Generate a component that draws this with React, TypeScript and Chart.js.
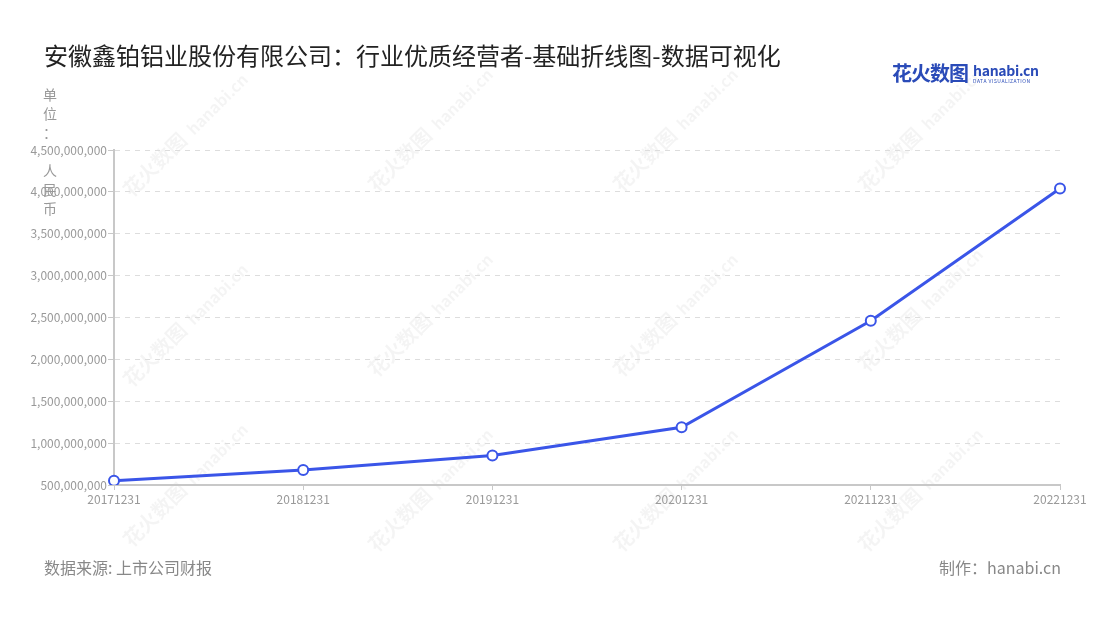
import { useEffect, useRef } from "react";
import { Chart, registerables } from "chart.js";

Chart.register(...registerables);

const categories = ["20171231", "20181231", "20191231", "20201231", "20211231", "20221231"];
const revenue = [552000000, 680000000, 851000000, 1190000000, 2460000000, 4040000000];
const yTicks = [500000000, 1000000000, 1500000000, 2000000000, 2500000000, 3000000000, 3500000000, 4000000000, 4500000000];
const unitLabel = ["单", "位", "：", "", "人", "民", "币"];

const FONT = "'Noto Sans CJK SC', 'Noto Sans', sans-serif";

const watermark = {
  id: "watermark",
  beforeDraw(chart: Chart) {
    const ctx = chart.ctx;
    const spots = [
      [160, 170], [405, 165], [650, 165], [895, 165],
      [160, 360], [405, 350], [650, 350], [895, 345],
      [160, 520], [405, 525], [650, 525], [895, 525],
    ];
    ctx.save();
    ctx.fillStyle = "rgba(0,0,0,0.045)";
    for (const [x, y] of spots) {
      ctx.save();
      ctx.translate(x, y);
      ctx.rotate(-Math.PI / 4);
      ctx.font = `bold 20px ${FONT}`;
      ctx.fillText("花火数图", -40, 0);
      ctx.font = `bold 16px ${FONT}`;
      ctx.fillText("hanabi.cn", 48, 0);
      ctx.restore();
    }
    ctx.restore();
  },
};

const unitTitle = {
  id: "unitTitle",
  afterDraw(chart: Chart) {
    const ctx = chart.ctx;
    ctx.save();
    ctx.fillStyle = "#999";
    ctx.font = `14px ${FONT}`;
    ctx.textAlign = "center";
    ctx.textBaseline = "middle";
    unitLabel.forEach((ch, i) => {
      if (ch) ctx.fillText(ch, 50, 95 + i * 19);
    });
    ctx.restore();
  },
};

const App = () => {
  const chartRef = useRef<HTMLCanvasElement>(null);
  const chartInstance = useRef<Chart | null>(null);

  useEffect(() => {
    document.body.style.margin = "0";
    if (!chartRef.current) return;
    const ctx = chartRef.current.getContext("2d");
    if (!ctx) return;
    chartInstance.current = new Chart(ctx, {
      type: "line",
      data: {
        labels: categories,
        datasets: [
          {
            label: "营业收入",
            data: revenue,
            borderColor: "#3a55e8",
            borderWidth: 3,
            pointRadius: 5,
            pointHoverRadius: 5,
            pointBackgroundColor: "#ffffff",
            pointBorderColor: "#3a55e8",
            pointBorderWidth: 2,
            tension: 0,
            fill: false,
          },
        ],
      },
      options: {
        animation: false,
        responsive: false,
        layout: { padding: { left: 0, right: 40, top: 150, bottom: 95 } },
        plugins: {
          legend: { display: false },
          tooltip: { enabled: false },
        },
        scales: {
          x: {
            offset: false,
            border: { color: "#c8c8c8", width: 2 },
            grid: { drawOnChartArea: false, drawTicks: true, tickLength: 5, color: "#c8c8c8" },
            ticks: { color: "#999", font: { family: FONT, size: 12 }, padding: 2, maxRotation: 0 },
            afterFit: (scale: any) => {
              scale.height = 40;
            },
          },
          y: {
            min: 500000000,
            max: 4500000000,
            afterBuildTicks: (scale: any) => {
              scale.ticks = yTicks.map((v) => ({ value: v }));
            },
            border: { color: "#c8c8c8", width: 2, dash: [5, 5] },
            grid: {
              color: "#dddddd",
              lineWidth: 1,
              tickLength: 6,
              tickColor: "#c8c8c8",
              tickBorderDash: [],
            },
            ticks: {
              color: "#999",
              font: { family: FONT, size: 12 },
              padding: 1,
              callback: (v: any) => Number(v).toLocaleString("en-US"),
            },
            afterFit: (scale: any) => {
              scale.width = 114;
            },
          },
        },
      },
      plugins: [watermark, unitTitle],
    });

    return () => {
      if (chartInstance.current) {
        chartInstance.current.destroy();
        chartInstance.current = null;
      }
    };
  }, []);

  return (
    <div style={{ position: "relative", width: 1100, height: 620, background: "#fff", fontFamily: FONT }}>
      <canvas ref={chartRef} width={1100} height={620} style={{ position: "absolute", left: 0, top: 0 }} />
      <div style={{ position: "absolute", left: 44, top: 37, fontSize: 24, color: "#222", whiteSpace: "nowrap" }}>
        安徽鑫铂铝业股份有限公司：行业优质经营者-基础折线图-数据可视化
      </div>
      <div style={{ position: "absolute", left: 892, top: 58, display: "flex", alignItems: "center", color: "#2a4bb8" }}>
        <span style={{ fontSize: 20, fontWeight: 700, letterSpacing: -1 }}>花火数图</span>
        <span style={{ marginLeft: 5, display: "flex", flexDirection: "column", lineHeight: 1 }}>
          <span style={{ fontSize: 14, fontWeight: 700, letterSpacing: -0.3 }}>hanabi.cn</span>
          <span style={{ fontSize: 5, letterSpacing: 0.5, marginTop: 1 }}>DATA VISUALIZATION</span>
        </span>
      </div>
      <div style={{ position: "absolute", left: 44, top: 555, fontSize: 16, color: "#888" }}>数据来源: 上市公司财报</div>
      <div style={{ position: "absolute", right: 39, top: 555, fontSize: 16, color: "#888" }}>制作：hanabi.cn</div>
    </div>
  );
};

export default App;
